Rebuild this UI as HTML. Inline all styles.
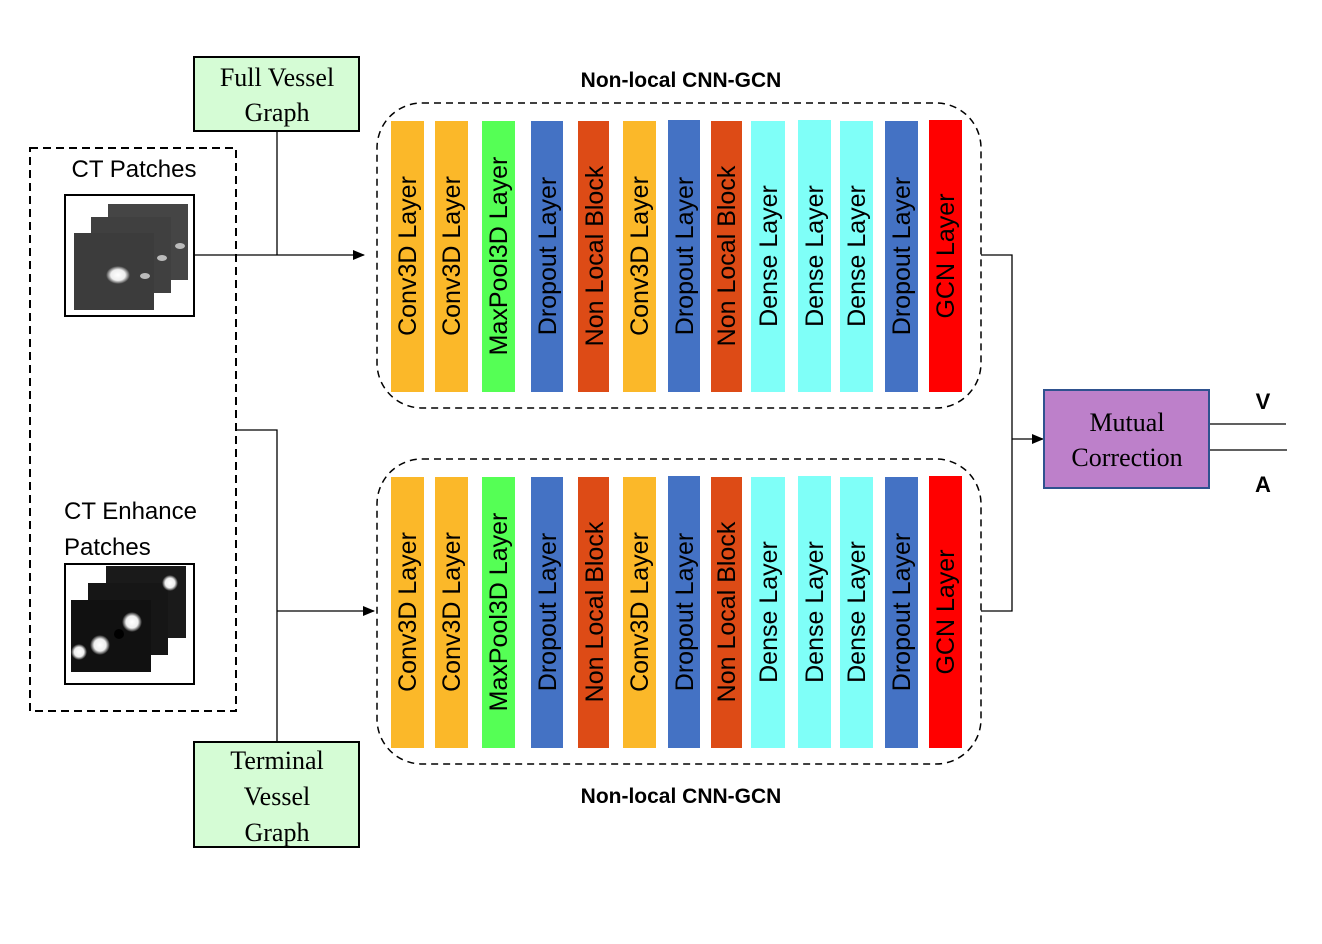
<!DOCTYPE html>
<html><head><meta charset="utf-8"><style>body{margin:0;background:#fff}svg{display:block}</style></head>
<body>
<svg width="1322" height="944" viewBox="0 0 1322 944" xmlns="http://www.w3.org/2000/svg">
<defs>
<marker id="ar" markerWidth="12" markerHeight="10" refX="11" refY="5" orient="auto" markerUnits="userSpaceOnUse"><path d="M0,0 L12,5 L0,10 Z" fill="#000"/></marker>
<radialGradient id="blob"><stop offset="0" stop-color="#fff"/><stop offset="0.6" stop-color="#eee"/><stop offset="1" stop-color="#eee" stop-opacity="0"/></radialGradient>
</defs>
<g font-family="Liberation Sans, sans-serif">
<rect x="30" y="148" width="206" height="563" fill="none" stroke="#000" stroke-width="2" stroke-dasharray="8,5"/>
<text x="134" y="177" font-size="24" text-anchor="middle">CT Patches</text>
<rect x="65" y="195" width="129" height="121" fill="#fff" stroke="#000" stroke-width="2"/>
<rect x="108" y="204" width="80" height="76" fill="#454545"/>
<rect x="91" y="217" width="80" height="76" fill="#404040"/>
<rect x="74" y="233" width="80" height="77" fill="#3c3c3c"/>
<ellipse cx="118" cy="275" rx="12" ry="9" fill="url(#blob)"/>
<ellipse cx="180" cy="246" rx="5" ry="3" fill="#bbb"/>
<ellipse cx="162" cy="258" rx="5" ry="3" fill="#bbb"/>
<ellipse cx="145" cy="276" rx="5" ry="3" fill="#bbb"/>
<text x="64" y="519" font-size="24">CT Enhance</text>
<text x="64" y="555" font-size="24">Patches</text>
<rect x="65" y="564" width="129" height="120" fill="#fff" stroke="#000" stroke-width="2"/>
<rect x="106" y="566" width="80" height="72" fill="#1a1a1a"/>
<rect x="88" y="583" width="80" height="72" fill="#161616"/>
<rect x="71" y="600" width="80" height="72" fill="#111"/>
<circle cx="132" cy="622" r="10" fill="url(#blob)"/>
<circle cx="100" cy="645" r="10" fill="url(#blob)"/>
<circle cx="79" cy="652" r="8" fill="url(#blob)"/>
<circle cx="170" cy="583" r="8" fill="url(#blob)"/>
<circle cx="119" cy="634" r="5" fill="#000"/>
<rect x="194" y="57" width="165" height="74" fill="#D5FCD5" stroke="#000" stroke-width="2"/>
<text x="277" y="86" font-family="Liberation Serif, serif" font-size="26" text-anchor="middle">Full Vessel</text>
<text x="277" y="121" font-family="Liberation Serif, serif" font-size="26" text-anchor="middle">Graph</text>
<rect x="194" y="742" width="165" height="105" fill="#D5FCD5" stroke="#000" stroke-width="2"/>
<text x="277" y="769" font-family="Liberation Serif, serif" font-size="26" text-anchor="middle">Terminal</text>
<text x="277" y="805" font-family="Liberation Serif, serif" font-size="26" text-anchor="middle">Vessel</text>
<text x="277" y="841" font-family="Liberation Serif, serif" font-size="26" text-anchor="middle">Graph</text>
<g stroke="#000" stroke-width="1.3" fill="none">
<path d="M277,131 V255"/>
<path d="M194,255 H364" marker-end="url(#ar)"/>
<path d="M236,430 H277 V742"/>
<path d="M277,611 H374" marker-end="url(#ar)"/>
<path d="M981,255 H1012 V611 H981"/>
<path d="M1012,439 H1043" marker-end="url(#ar)"/>
<path d="M1209,424 H1286"/>
<path d="M1209,450 H1287"/>
</g>
<rect x="377" y="103" width="604" height="305" rx="45" fill="none" stroke="#000" stroke-width="1.5" stroke-dasharray="7,5"/>
<rect x="377" y="459" width="604" height="305" rx="45" fill="none" stroke="#000" stroke-width="1.5" stroke-dasharray="7,5"/>
<text x="681" y="87" font-size="21" font-weight="bold" text-anchor="middle">Non-local CNN-GCN</text>
<text x="681" y="803" font-size="21" font-weight="bold" text-anchor="middle">Non-local CNN-GCN</text>
<g id="cols">
<rect x="391" y="121" width="33" height="271" fill="#FBB829"/>
<rect x="435" y="121" width="33" height="271" fill="#FBB829"/>
<rect x="482" y="121" width="33" height="271" fill="#55FF55"/>
<rect x="531" y="121" width="32" height="271" fill="#4472C4"/>
<rect x="578" y="121" width="31" height="271" fill="#DD4B16"/>
<rect x="623" y="121" width="33" height="271" fill="#FBB829"/>
<rect x="668" y="120" width="32" height="272" fill="#4472C4"/>
<rect x="711" y="121" width="31" height="271" fill="#DD4B16"/>
<rect x="751" y="121" width="34" height="271" fill="#7FFFF8"/>
<rect x="798" y="120" width="33" height="272" fill="#7FFFF8"/>
<rect x="840" y="121" width="33" height="271" fill="#7FFFF8"/>
<rect x="885" y="121" width="33" height="271" fill="#4472C4"/>
<rect x="929" y="120" width="33" height="272" fill="#FF0000"/>
<g font-size="25" text-anchor="middle">
<text transform="translate(416,256) rotate(-90)">Conv3D Layer</text>
<text transform="translate(460,256) rotate(-90)">Conv3D Layer</text>
<text transform="translate(507,256) rotate(-90)">MaxPool3D Layer</text>
<text transform="translate(556,256) rotate(-90)">Dropout Layer</text>
<text transform="translate(603,256) rotate(-90)">Non Local Block</text>
<text transform="translate(648,256) rotate(-90)">Conv3D Layer</text>
<text transform="translate(693,256) rotate(-90)">Dropout Layer</text>
<text transform="translate(735,256) rotate(-90)">Non Local Block</text>
<text transform="translate(777,256) rotate(-90)">Dense Layer</text>
<text transform="translate(823,256) rotate(-90)">Dense Layer</text>
<text transform="translate(865,256) rotate(-90)">Dense Layer</text>
<text transform="translate(910,256) rotate(-90)">Dropout Layer</text>
<text transform="translate(954,256) rotate(-90)">GCN Layer</text>
</g>
</g>
<use href="#cols" y="356"/>
<rect x="1044" y="390" width="165" height="98" fill="#BD80CA" stroke="#2F528F" stroke-width="2"/>
<text x="1127" y="431" font-family="Liberation Serif, serif" font-size="26" text-anchor="middle">Mutual</text>
<text x="1127" y="466" font-family="Liberation Serif, serif" font-size="26" text-anchor="middle">Correction</text>
<text x="1263" y="409" font-size="22" font-weight="bold" text-anchor="middle">V</text>
<text x="1263" y="492" font-size="22" font-weight="bold" text-anchor="middle">A</text>
</g>
</svg>
</body></html>
